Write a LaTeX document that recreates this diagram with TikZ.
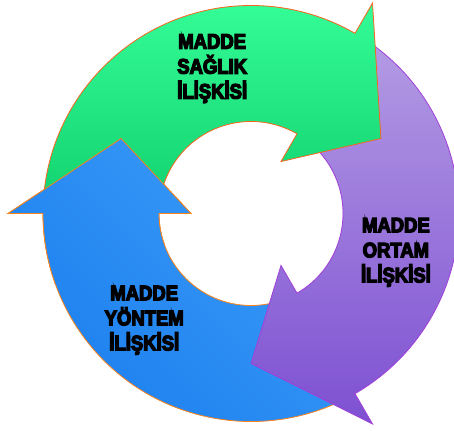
\documentclass[tikz,border=0pt]{standalone}
\usepackage{fontspec}
\newfontfamily\lblfont{Liberation Sans}[FakeStretch=0.88,BoldFeatures={FakeBold=6}]
\usetikzlibrary{positioning}

\definecolor{greentop}{RGB}{52,252,150}
\definecolor{greenbot}{RGB}{16,208,110}
\definecolor{purptop}{RGB}{180,156,228}
\definecolor{purpbot}{RGB}{126,80,210}
\definecolor{bluetop}{RGB}{60,156,248}
\definecolor{bluebot}{RGB}{26,126,238}
\definecolor{edgeorange}{RGB}{250,100,30}
\definecolor{edgepurple}{RGB}{160,64,216}

\begin{document}
\begin{tikzpicture}[x=1pt,y=1pt,
      ring arrow/.style 2 args={
         insert path={(#1:208) arc[start angle=#1, end angle=#2, radius=208]
           -- (#2:243) -- ({#2-30}:150) -- (#2:60) -- (#2:92)
           arc[start angle=#2, end angle=#1, radius=92] -- cycle}
      },
      greenarrow/.style={
         line width=0.8pt,
         draw=edgeorange,
         top color=greentop,
         bottom color=greenbot
      },
      purplearrow/.style={
         line width=0.8pt,
         draw=edgepurple,
         top color=purptop,
         bottom color=purpbot
      },
      bluearrow/.style={
         line width=0.8pt,
         draw=edgeorange!80!yellow,
         top color=bluetop,
         bottom color=bluebot,
         shading angle=-45
      },
      label/.style={
         align=center,
         text=black,
         font=\lblfont\bfseries\fontsize{21}{25}\selectfont
      }
    ]
    \useasboundingbox (0,0) rectangle (454,430);
    \coordinate (c) at (251,216.5);
    \begin{scope}[shift={(c)}]
      % the three arrows of the cycle
      \path[bluearrow, ring arrow={300}{180}];
      \path[purplearrow, ring arrow={60}{-60}];
      \path[greenarrow, ring arrow={180}{60}];
      % blue head lies over the green tail
      \begin{scope}
        \clip (0,0) -- (140:270) arc[start angle=140, end angle=200, radius=270] -- cycle;
        \path[bluearrow, ring arrow={300}{180}];
      \end{scope}
      \node (saglik) [label] at (105:150) {MADDE\\SAĞLIK\\İLİŞKİSİ};
      \node (ortam)  [label] at (-15:150) {MADDE\\ORTAM\\İLİŞKİSİ};
      \node (yontem) [label] at (-135:151) {MADDE\\YÖNTEM\\İLİŞKİSİ};
    \end{scope}
\end{tikzpicture}
\end{document}
